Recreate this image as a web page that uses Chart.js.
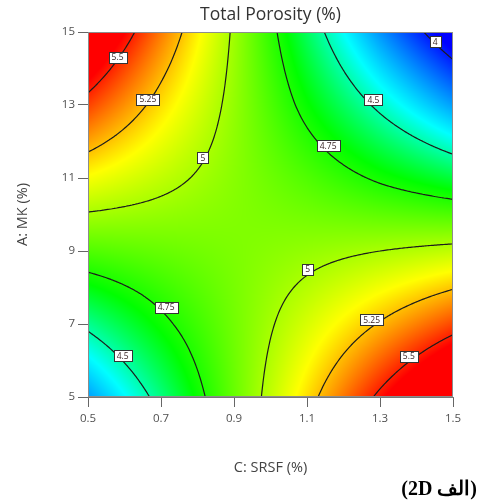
<!DOCTYPE html>
<html>
<head>
<meta charset="utf-8">
<script src="https://cdn.jsdelivr.net/npm/chart.js@4.4.1/dist/chart.umd.min.js"></script>
<style>
  body { margin: 0; background: #fff; }
  #wrap { width: 479px; height: 502px; position: relative; }
</style>
</head>
<body>
<div id="wrap"><canvas id="porosityChart"></canvas></div>
<script>
// grid: columns = C: SRSF, rows = A: MK
const srsf = [0.5, 0.7, 0.9, 1.1, 1.3, 1.5];
const mk = [5, 7, 9, 11, 13, 15];
const porosity = [
  [4.23, 4.55, 4.88, 5.20, 5.53, 5.85],  // MK 5
  [4.53, 4.72, 4.90, 5.08, 5.26, 5.44],  // MK 7
  [4.84, 4.88, 4.92, 4.96, 5.00, 5.04],  // MK 9
  [5.14, 5.04, 4.94, 4.84, 4.73, 4.63],  // MK 11
  [5.45, 5.20, 4.96, 4.71, 4.47, 4.23],  // MK 13
  [5.75, 5.36, 4.98, 4.59, 4.21, 3.86]   // MK 15
];
const contourLevels = [4, 4.5, 4.75, 5, 5.25, 5.5];
// contour labels (text, SRSF, MK)
const labelText = ['5.5', '5.25', '5', '4', '4.5', '4.75', '4.75', '4.5', '5', '5.25', '5.5'];
const labelSrsf = [0.581, 0.664, 0.815, 1.451, 1.282, 1.158, 0.714, 0.595, 1.102, 1.277, 1.379];
const labelMk = [14.30, 13.16, 11.55, 14.73, 13.14, 11.88, 7.45, 6.13, 8.50, 7.11, 6.12];

// colour ramp, low = blue, high = red
const rampValues = [3.95, 4.4, 4.7, 5.15, 5.55];
const rampColors = [[0, 0, 255], [0, 255, 255], [0, 255, 0], [255, 255, 0], [255, 0, 0]];

function findCell(arr, v) {
  for (let i = 0; i < arr.length - 2; i++) {
    if (v < arr[i + 1]) return i;
  }
  return arr.length - 2;
}

function surface(xv, yv) {
  const i = findCell(srsf, xv), j = findCell(mk, yv);
  let tx = (xv - srsf[i]) / (srsf[i + 1] - srsf[i]);
  let ty = (yv - mk[j]) / (mk[j + 1] - mk[j]);
  tx = Math.max(0, Math.min(1, tx));
  ty = Math.max(0, Math.min(1, ty));
  const a = porosity[j][i], b = porosity[j][i + 1];
  const c = porosity[j + 1][i], d = porosity[j + 1][i + 1];
  return a * (1 - tx) * (1 - ty) + b * tx * (1 - ty) + c * (1 - tx) * ty + d * tx * ty;
}

function colorFor(z) {
  if (z <= rampValues[0]) return rampColors[0];
  const last = rampValues.length - 1;
  if (z >= rampValues[last]) return rampColors[last];
  let k = 0;
  while (z > rampValues[k + 1]) k++;
  const t = (z - rampValues[k]) / (rampValues[k + 1] - rampValues[k]);
  const c0 = rampColors[k], c1 = rampColors[k + 1];
  return [0, 1, 2].map(n => Math.round(c0[n] + (c1[n] - c0[n]) * t));
}

const heatmapPlugin = {
  id: 'heatmap',
  beforeDatasetsDraw(chart) {
    const {ctx, chartArea: area, scales: {x, y}} = chart;
    const w = Math.round(area.right - area.left);
    const h = Math.round(area.bottom - area.top);
    const off = document.createElement('canvas');
    off.width = w;
    off.height = h;
    const octx = off.getContext('2d');
    const img = octx.createImageData(w, h);
    for (let py = 0; py < h; py++) {
      const yv = y.getValueForPixel(area.top + py + 0.5);
      for (let px = 0; px < w; px++) {
        const xv = x.getValueForPixel(area.left + px + 0.5);
        const c = colorFor(surface(xv, yv));
        const k = (py * w + px) * 4;
        img.data[k] = c[0];
        img.data[k + 1] = c[1];
        img.data[k + 2] = c[2];
        img.data[k + 3] = 255;
      }
    }
    octx.putImageData(img, 0, 0);
    ctx.drawImage(off, area.left, area.top);
  },
  afterDatasetsDraw(chart) {
    const {ctx, chartArea: area, scales: {x, y}} = chart;
    // marching squares on a fine sampling of the grid
    const n = 240;
    const x0 = srsf[0], x1 = srsf[srsf.length - 1];
    const y0 = mk[0], y1 = mk[mk.length - 1];
    const gx = [], gy = [];
    for (let i = 0; i <= n; i++) {
      gx.push(x0 + (x1 - x0) * i / n);
      gy.push(y0 + (y1 - y0) * i / n);
    }
    const g = gy.map(yv => gx.map(xv => surface(xv, yv)));

    ctx.save();
    ctx.beginPath();
    ctx.rect(area.left, area.top, area.right - area.left, area.bottom - area.top);
    ctx.clip();
    ctx.strokeStyle = '#1c1c1c';
    ctx.lineWidth = 1.2;
    ctx.lineCap = 'round';
    ctx.beginPath();
    contourLevels.forEach(lv => {
      const level = lv + 1e-7; // avoid exact hits on grid values
      for (let j = 0; j < n; j++) {
        for (let i = 0; i < n; i++) {
          const corners = [
            [gx[i], gy[j], g[j][i]],
            [gx[i + 1], gy[j], g[j][i + 1]],
            [gx[i + 1], gy[j + 1], g[j + 1][i + 1]],
            [gx[i], gy[j + 1], g[j + 1][i]]
          ];
          const pts = [];
          for (let e = 0; e < 4; e++) {
            const p = corners[e], q = corners[(e + 1) % 4];
            if ((p[2] - level) * (q[2] - level) < 0) {
              const t = (level - p[2]) / (q[2] - p[2]);
              pts.push([p[0] + (q[0] - p[0]) * t, p[1] + (q[1] - p[1]) * t]);
            }
          }
          for (let s = 0; s + 1 < pts.length; s += 2) {
            ctx.moveTo(x.getPixelForValue(pts[s][0]), y.getPixelForValue(pts[s][1]));
            ctx.lineTo(x.getPixelForValue(pts[s + 1][0]), y.getPixelForValue(pts[s + 1][1]));
          }
        }
      }
    });
    ctx.stroke();

    // contour value boxes
    ctx.font = '8.5px "Open Sans"';
    ctx.textAlign = 'center';
    ctx.textBaseline = 'middle';
    ctx.lineWidth = 1;
    labelText.forEach((txt, k) => {
      const px = x.getPixelForValue(labelSrsf[k]);
      const py = y.getPixelForValue(labelMk[k]);
      const bw = Math.round(ctx.measureText(txt).width + 6);
      const bh = 11;
      const bx = Math.round(px - bw / 2) + 0.5, by = Math.round(py - bh / 2) + 0.5;
      ctx.fillStyle = '#ffffff';
      ctx.fillRect(bx, by, bw, bh);
      ctx.strokeStyle = '#333333';
      ctx.strokeRect(bx, by, bw, bh);
      ctx.fillStyle = '#3a2626';
      ctx.fillText(txt, px, py + 0.5);
    });
    ctx.restore();

    // plot frame
    ctx.save();
    ctx.strokeStyle = '#8c8c8c';
    ctx.lineWidth = 1;
    ctx.strokeRect(Math.round(area.left) + 0.5, Math.round(area.top) + 0.5,
      Math.round(area.right - area.left) - 1, Math.round(area.bottom - area.top) - 1);
    ctx.restore();
  },
  afterDraw(chart) {
    const ctx = chart.ctx;
    ctx.save();
    ctx.font = 'bold 20px "Liberation Serif"';
    ctx.fillStyle = '#000';
    ctx.direction = 'rtl';
    ctx.textAlign = 'right';
    ctx.textBaseline = 'middle';
    ctx.fillText('(الف 2D)', 477, 490);
    ctx.restore();
  }
};

function axisTicks(values, digits) {
  return {
    afterBuildTicks: scale => { scale.ticks = values.map(v => ({value: v})); },
    ticks: {
      callback: v => Number(v).toFixed(digits),
      color: '#505050',
      font: {family: 'Open Sans', size: 11.5},
      autoSkip: false,
      maxRotation: 0
    }
  };
}

const ctx = document.getElementById('porosityChart').getContext('2d');
const xAxis = axisTicks(srsf, 1);
const yAxis = axisTicks(mk, 0);

const chart = new Chart(ctx, {
  type: 'scatter',
  data: { datasets: [{ data: [], showLine: false }] },
  options: {
    responsive: true,
    maintainAspectRatio: false,
    animation: false,
    layout: { padding: { left: 0, right: 26, top: 0, bottom: 0 } },
    plugins: {
      legend: { display: false },
      tooltip: { enabled: false },
      title: {
        display: true,
        text: 'Total Porosity (%)',
        fullSize: false,
        color: '#333',
        font: { family: 'Open Sans', size: 17.5, weight: 'normal' },
        padding: { top: 5, bottom: 6 }
      }
    },
    scales: {
      x: {
        type: 'linear',
        min: 0.5,
        max: 1.5,
        afterBuildTicks: xAxis.afterBuildTicks,
        afterFit: s => { s.height = 105; },
        ticks: { ...xAxis.ticks, padding: 5 },
        grid: { drawOnChartArea: false, drawTicks: true, tickLength: 10, color: '#666' },
        border: { color: '#777' },
        title: {
          display: true,
          text: 'C: SRSF (%)',
          color: '#444',
          font: { family: 'Open Sans', size: 14.5 },
          padding: { top: 0, bottom: 25 }
        }
      },
      y: {
        type: 'linear',
        min: 5,
        max: 15,
        afterBuildTicks: yAxis.afterBuildTicks,
        afterFit: s => { s.width = 88; },
        ticks: { ...yAxis.ticks, padding: 3 },
        grid: { drawOnChartArea: false, drawTicks: true, tickLength: 10, color: '#666' },
        border: { color: '#777' },
        title: {
          display: true,
          text: 'A: MK (%)',
          color: '#444',
          font: { family: 'Open Sans', size: 14.5 },
          padding: { top: 14, bottom: 0 }
        }
      }
    }
  },
  plugins: [heatmapPlugin]
});
</script>
</body>
</html>
